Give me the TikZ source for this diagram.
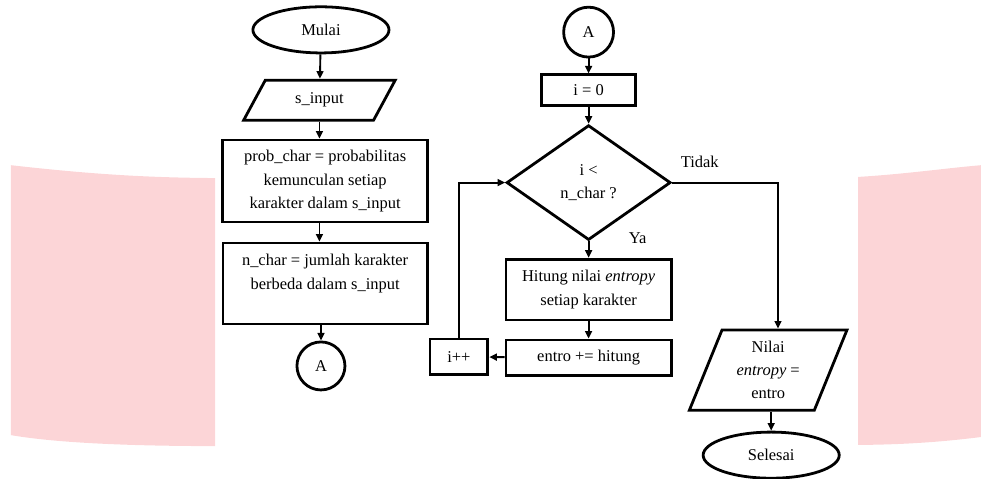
\documentclass[tikz,border=0pt]{standalone}
\usepackage{fontspec}
\setmainfont{Liberation Serif}
\usepackage{xcolor}
\usepackage{tikz}
\usetikzlibrary{shapes.geometric,arrows.meta}
\definecolor{latarpink}{RGB}{252,213,215}

\begin{document}
\begin{tikzpicture}[font=\fontsize{12.4}{17.5}\selectfont,
  proses/.style={draw,line width=2.1pt,align=center,inner sep=0pt},
  terminal/.style={draw,ellipse,line width=2.1pt,minimum width=3.6cm,minimum height=1.22cm,inner sep=0pt},
  konektor/.style={draw,circle,line width=2.1pt,inner sep=0pt},
  data/.style={draw,trapezium,trapezium stretches=true,line width=2.1pt,align=center,inner sep=0pt},
  keputusan/.style={draw,diamond,line width=2.1pt,align=center,inner sep=0pt},
  panah/.style={line width=1.4pt,-{Triangle[length=2mm,width=1.8mm]}}]
  \useasboundingbox (0,0) rectangle (25.95,-12.67);
  % latar
  \fill[latarpink] (0.29,-4.37) .. controls (2.5,-4.62) and (4,-4.7) .. (5.69,-4.71)
    -- (5.69,-11.80) .. controls (3.5,-11.8) and (1.5,-11.72) .. (0.29,-11.51) -- cycle;
  \fill[latarpink] (22.70,-4.68) .. controls (24,-4.6) and (25,-4.45) .. (25.95,-4.37)
    -- (25.95,-11.56) .. controls (25,-11.68) and (24,-11.76) .. (22.70,-11.77) -- cycle;
  % kolom kiri
  \node[terminal] (mulai) at (8.49,-0.79) {Mulai};
  \node[data,minimum width=4.02cm,minimum height=1.06cm,
    trapezium left angle=56,trapezium right angle=124] (sinput) at (8.45,-2.65) {s\_input};
  \node[proses,minimum width=5.42cm,minimum height=2.17cm] (prob) at (8.60,-4.79)
    {prob\_char = probabilitas\\kemunculan setiap\\karakter dalam s\_input};
  \node[proses,minimum width=5.40cm,minimum height=2.14cm] (nchar) at (8.60,-7.50)
    {n\_char = jumlah karakter\\berbeda dalam s\_input\\~};
  \node[konektor,minimum size=1.27cm] (ka) at (8.49,-9.68) {A};
  % kolom kanan
  \node[konektor,minimum size=1.32cm] (kb) at (15.57,-0.85) {A};
  \node[proses,minimum width=2.49cm,minimum height=0.82cm] (inisial) at (15.57,-2.39) {i = 0};
  \node[keputusan,minimum width=4.34cm,minimum height=3.04cm] (cek) at (15.57,-4.83) {i <\\n\_char ?};
  \node[proses,minimum width=4.37cm,minimum height=1.61cm] (hitung) at (15.57,-7.66)
    {Hitung nilai \textit{entropy}\\setiap karakter};
  \node[proses,minimum width=4.37cm,minimum height=0.93cm] (tambah) at (15.57,-9.46) {entro += hitung};
  \node[proses,minimum width=1.53cm,minimum height=0.95cm] (naik) at (12.14,-9.44) {i++};
  \node[data,minimum width=4.18cm,minimum height=2.12cm,
    trapezium left angle=69,trapezium right angle=111] (nilai) at (20.32,-9.79)
    {Nilai\\\textit{entropy} =\\entro};
  \node[terminal] (selesai) at (20.40,-12.04) {Selesai};
  \node (tidak) at (18.51,-4.29) {Tidak};
  \node (ya) at (16.87,-6.30) {Ya};
  \coordinate (belok) at (20.58,-4.83);
  % panah
  \draw[panah] (mulai) -- (sinput);
  \draw[panah] (sinput.south) -- (sinput.south |- prob.north);
  \draw[panah] (sinput.south |- prob.south) -- (sinput.south |- nchar.north);
  \draw[panah] (ka.north |- nchar.south) -- (ka);
  \draw[panah] (kb) -- (inisial);
  \draw[panah] (inisial) -- (cek);
  \draw[panah] (cek) -- (hitung);
  \draw[panah] (hitung) -- (tambah);
  \draw[panah] (tambah) -- (naik);
  \draw[panah] (naik) |- (cek);
  \draw[panah] (cek.east) -- (belok) -- (belok |- nilai.north);
  \draw[panah] (selesai.north |- nilai.south) -- (selesai);
\end{tikzpicture}
\end{document}
